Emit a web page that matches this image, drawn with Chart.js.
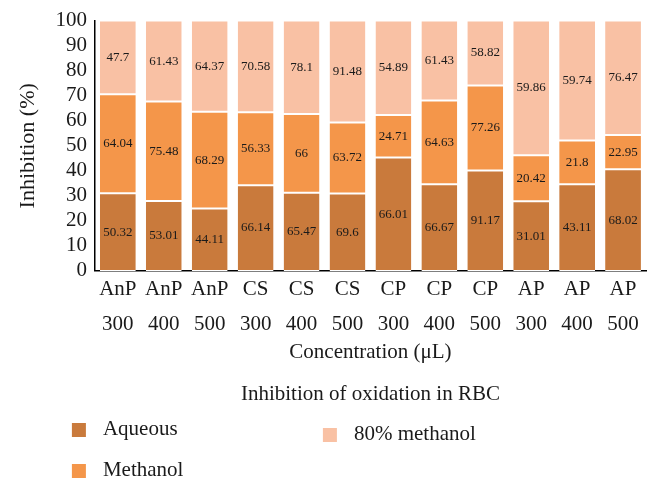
<!DOCTYPE html>
<html>
<head>
<meta charset="utf-8">
<script src="https://cdn.jsdelivr.net/npm/chart.js@4.4.1/dist/chart.umd.min.js"></script>
<style>
  html, body { margin: 0; padding: 0; background: #fff; }
  #wrap { width: 660px; height: 493px; position: relative; }
</style>
</head>
<body>
<div id="wrap"><canvas id="inhibitionChart"></canvas></div>
<script>
// Extract names and concentrations (µL)
const extracts = ['AnP', 'AnP', 'AnP', 'CS', 'CS', 'CS', 'CP', 'CP', 'CP', 'AP', 'AP', 'AP'];
const concentrations = ['300', '400', '500', '300', '400', '500', '300', '400', '500', '300', '400', '500'];

// Inhibition values per solvent (labels on bars)
const aqueous = [50.32, 53.01, 44.11, 66.14, 65.47, 69.6, 66.01, 66.67, 91.17, 31.01, 43.11, 68.02];
const methanol = [64.04, 75.48, 68.29, 56.33, 66, 63.72, 24.71, 64.63, 77.26, 20.42, 21.8, 22.95];
const methanol80 = [47.7, 61.43, 64.37, 70.58, 78.1, 91.48, 54.89, 61.43, 58.82, 59.86, 59.74, 76.47];

const yTicks = [0, 10, 20, 30, 40, 50, 60, 70, 80, 90, 100];

const FONT = '"Liberation Serif", "Times New Roman", serif';

// bars are stacked to 100%
const totals = aqueous.map((v, i) => v + methanol[i] + methanol80[i]);
const pct = arr => arr.map((v, i) => v / totals[i] * 100);

const series = [
    { label: 'Aqueous', raw: aqueous, color: '#c97a3c' },
    { label: 'Methanol', raw: methanol, color: '#f4964a' },
    { label: '80% methanol', raw: methanol80, color: '#f9c1a4' }
];

const valueLabels = {
    id: 'valueLabels',
    afterDatasetsDraw(chart) {
        const c = chart.ctx;
        c.save();
        c.font = '13px ' + FONT;
        c.fillStyle = '#1a1a1a';
        c.textAlign = 'center';
        c.textBaseline = 'middle';
        chart.data.datasets.forEach((ds, di) => {
            chart.getDatasetMeta(di).data.forEach((bar, i) => {
                c.fillText(String(ds.raw[i]), bar.x, (bar.y + bar.base) / 2);
            });
        });
        c.restore();
    }
};

const sideLegend = {
    id: 'sideLegend',
    afterDraw(chart) {
        const c = chart.ctx;
        const a = chart.chartArea;
        const slots = [
            { x: a.left - 23, y: chart.height - 63 },
            { x: a.left - 23, y: chart.height - 22 },
            { x: a.left + 228, y: chart.height - 58 }
        ];
        c.save();
        c.font = '21px ' + FONT;
        c.textBaseline = 'middle';
        series.forEach((s, i) => {
            const p = slots[i];
            c.fillStyle = s.color;
            c.fillRect(p.x, p.y - 7, 14, 14);
            c.fillStyle = '#1a1a1a';
            c.fillText(s.label, p.x + 31, p.y - 1);
        });
        c.restore();
    }
};

const ctx = document.getElementById('inhibitionChart').getContext('2d');
const chart = new Chart(ctx, {
    type: 'bar',
    data: {
        labels: extracts.map((e, i) => [e, concentrations[i]]),
        datasets: series.map(s => ({
            label: s.label,
            raw: s.raw,
            data: pct(s.raw),
            backgroundColor: s.color,
            borderColor: '#ffffff',
            borderWidth: { top: 1, bottom: 1, left: 0, right: 0 },
            borderSkipped: false,
            barPercentage: 0.78,
            categoryPercentage: 1
        }))
    },
    options: {
        responsive: true,
        maintainAspectRatio: false,
        animation: false,
        layout: { padding: { left: 15, right: 14, top: 15, bottom: 78 } },
        plugins: {
            legend: { display: false },
            tooltip: { enabled: false }
        },
        scales: {
            x: {
                stacked: true,
                grid: { display: false },
                border: { color: '#000', width: 1.5 },
                ticks: {
                    color: '#1a1a1a',
                    font: { family: FONT, size: 21, lineHeight: 1.62 },
                    maxRotation: 0,
                    autoSkip: false,
                    padding: -6
                },
                title: {
                    display: true,
                    text: ['Concentration (\u03bcL)', 'Inhibition of oxidation in RBC'],
                    color: '#1a1a1a',
                    font: { family: FONT, size: 21, lineHeight: 2 },
                    padding: { top: -4, bottom: 0 }
                }
            },
            y: {
                stacked: true,
                min: 0,
                max: 100,
                afterBuildTicks: axis => { axis.ticks = yTicks.map(v => ({ value: v })); },
                grid: { display: false, drawTicks: false },
                border: { color: '#000', width: 1.5 },
                ticks: {
                    color: '#1a1a1a',
                    font: { family: FONT, size: 21 },
                    autoSkip: false,
                    padding: 8
                },
                title: {
                    display: true,
                    text: 'Inhibition (%)',
                    color: '#1a1a1a',
                    font: { family: FONT, size: 22 },
                    padding: { top: 0, bottom: 6 }
                }
            }
        }
    },
    plugins: [valueLabels, sideLegend]
});
</script>
</body>
</html>
